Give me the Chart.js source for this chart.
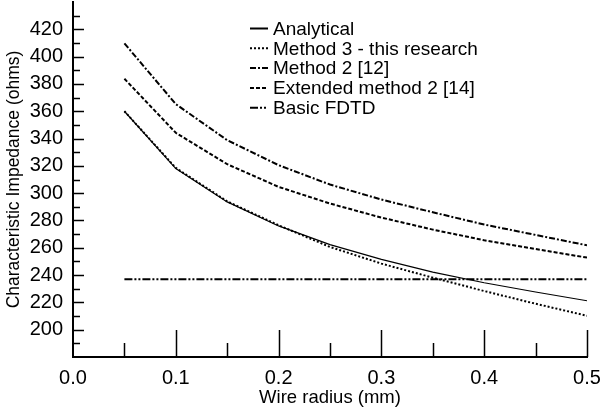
<!DOCTYPE html>
<html>
<head>
<meta charset="utf-8">
<script src="https://cdn.jsdelivr.net/npm/chart.js@4.4.1/dist/chart.umd.min.js"></script>
<style>
  html, body { margin: 0; padding: 0; background: #fff; }
  #wrap { width: 602px; height: 420px; position: relative; }
</style>
</head>
<body>
<div id="wrap"><canvas id="impedance-chart"></canvas></div>
<script>
// Wire radius (mm) and characteristic impedance (ohms).
const wireRadius = [0.05, 0.1, 0.15, 0.2, 0.25, 0.3, 0.35, 0.4, 0.45, 0.5];
const analytical = [360, 318, 293.6, 276, 262.3, 251.5, 242.2, 234.4, 227.6, 221.2];
const method3 = [360, 318.5, 294, 276.5, 260.6, 248.4, 238.1, 228.3, 219, 210.2];
const method2 = [409.7, 365.2, 338.8, 320.5, 306.3, 295.3, 286, 277, 269.4, 261.8];
const extendedMethod2 = [383.8, 344.2, 321.2, 304.6, 292.4, 282.1, 273.3, 265.5, 259.1, 252.8];
const basicFdtd = [237, 237, 237, 237, 237, 237, 237, 237, 237, 237];

const xTickValues = [0, 0.1, 0.2, 0.3, 0.4, 0.5];
const yTickValues = [200, 220, 240, 260, 280, 300, 320, 340, 360, 380, 400, 420];

const FONT = "'Liberation Sans', Arial, sans-serif";

const seriesStyles = [
  { label: "Analytical", data: analytical, width: 1.2, dash: [] },
  { label: "Method 3 - this research", data: method3, width: 2, dash: [2, 2] },
  { label: "Method 2 [12]", data: method2, width: 2, dash: [6, 2, 2, 2] },
  { label: "Extended method 2 [14]", data: extendedMethod2, width: 2, dash: [4, 2] },
  { label: "Basic FDTD", data: basicFdtd, width: 2, dash: [8, 2, 2, 2, 2, 2] }
];

const datasets = seriesStyles.map((s) => ({
  label: s.label,
  data: wireRadius.map((r, i) => ({ x: r, y: s.data[i] })),
  borderColor: "#000",
  borderWidth: s.width,
  borderDash: s.dash,
  pointRadius: 0,
  fill: false,
  tension: 0
}));

// Tick marks point inward in the original, with minor ticks in between.
const insideTicks = {
  id: "insideTicks",
  afterDatasetsDraw(chart) {
    const { ctx, scales: { x, y } } = chart;
    ctx.save();
    ctx.strokeStyle = "#000";
    ctx.lineWidth = 1.5;
    ctx.beginPath();
    for (let v = 190; v <= 430; v += 10) {
      const py = Math.round(y.getPixelForValue(v)) + 0.5;
      const len = v % 20 === 0 ? 11 : 7;
      ctx.moveTo(x.left, py);
      ctx.lineTo(x.left + len, py);
    }
    for (let k = 1; k <= 10; k++) {
      const v = k * 0.05;
      const px = Math.round(x.getPixelForValue(v)) + 0.5;
      const len = k % 2 === 0 ? 27 : 14;
      ctx.moveTo(px, y.bottom);
      ctx.lineTo(px, y.bottom - len);
    }
    ctx.stroke();
    ctx.restore();
  }
};

// Legend drawn inside the plot, like the figure.
const innerLegend = {
  id: "innerLegend",
  afterDraw(chart) {
    const { ctx } = chart;
    ctx.save();
    ctx.font = "19px " + FONT;
    ctx.textBaseline = "middle";
    ctx.fillStyle = "#000";
    chart.data.datasets.forEach((ds, i) => {
      const rowY = 28.5 + i * 19.8;
      ctx.strokeStyle = "#000";
      ctx.lineWidth = 2;
      ctx.setLineDash(ds.borderDash);
      ctx.beginPath();
      ctx.moveTo(250, rowY);
      ctx.lineTo(268, rowY);
      ctx.stroke();
      ctx.setLineDash([]);
      ctx.fillText(ds.label, 273, rowY + 1);
    });
    ctx.restore();
  }
};

new Chart(document.getElementById("impedance-chart"), {
  type: "line",
  data: { datasets },
  options: {
    responsive: true,
    maintainAspectRatio: false,
    animation: false,
    parsing: false,
    layout: { padding: { top: 2, right: 15, left: 0, bottom: 0 } },
    plugins: {
      legend: { display: false },
      tooltip: { enabled: false }
    },
    scales: {
      x: {
        type: "linear",
        min: 0,
        max: 0.5,
        afterFit: (scale) => {
          scale.height = 63;
          scale.paddingLeft = 0;
          scale.paddingRight = 0;
        },
        afterBuildTicks: (scale) => {
          scale.ticks = xTickValues.map((v) => ({ value: v }));
        },
        ticks: {
          color: "#000",
          font: { family: FONT, size: 20 },
          padding: 9,
          maxRotation: 0,
          autoSkip: false,
          callback: (value) => Number(value).toFixed(1)
        },
        grid: { display: false, drawTicks: false },
        border: { display: true, color: "#000", width: 2 },
        title: {
          display: true,
          text: "Wire radius (mm)",
          color: "#000",
          font: { family: FONT, size: 18.5 },
          padding: { top: 0, bottom: 11 }
        }
      },
      y: {
        type: "linear",
        min: 180,
        max: 440,
        afterFit: (scale) => {
          scale.width = 73;
          scale.paddingTop = 0;
          scale.paddingBottom = 0;
        },
        afterBuildTicks: (scale) => {
          scale.ticks = yTickValues.map((v) => ({ value: v }));
        },
        ticks: {
          color: "#000",
          font: { family: FONT, size: 20 },
          padding: 10,
          autoSkip: false
        },
        grid: { display: false, drawTicks: false },
        border: { display: true, color: "#000", width: 2 },
        title: {
          display: true,
          text: "Characteristic Impedance (ohms)",
          color: "#000",
          font: { family: FONT, size: 17.5 },
          padding: { top: 4, bottom: 0 }
        }
      }
    }
  },
  plugins: [insideTicks, innerLegend]
});
</script>
</body>
</html>
